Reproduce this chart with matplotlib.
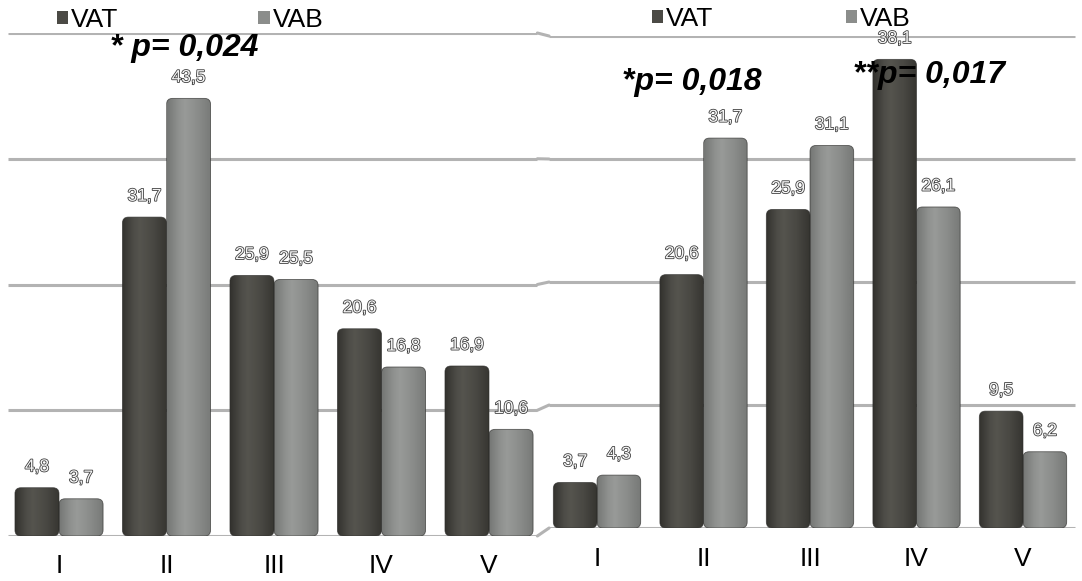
import numpy as np
import matplotlib.pyplot as plt
import matplotlib.patheffects as pe
from matplotlib.patches import FancyBboxPatch, Patch, ConnectionPatch
from matplotlib.colors import LinearSegmentedColormap

plt.rcParams['font.family'] = ['Liberation Sans', 'DejaVu Sans']

categories = ['I', 'II', 'III', 'IV', 'V']
vat_left = [4.8, 31.7, 25.9, 20.6, 16.9]
vab_left = [3.7, 43.5, 25.5, 16.8, 10.6]
vat_right = [3.7, 20.6, 25.9, 38.1, 9.5]
vab_right = [4.3, 31.7, 31.1, 26.1, 6.2]
grid_left = [0, 12.5, 25, 37.5, 50]
grid_right = [0, 10, 20, 30, 40]

W, H = 1082, 581
fig = plt.figure(figsize=(W / 100, H / 100), dpi=100)

# dark / light bar shading, left to right across each bar
cmap_vat = LinearSegmentedColormap.from_list(
    'vat', [(0, '#33322e'), (0.25, '#4d4c47'), (0.4, '#55544e'), (0.7, '#494843'), (1, '#363531')])
cmap_vab = LinearSegmentedColormap.from_list(
    'vab', [(0, '#757775'), (0.25, '#8f918f'), (0.4, '#989a98'), (0.7, '#8a8c8a'), (1, '#777977')])
grad = np.linspace(0, 1, 64).reshape(1, -1)


def px_axes(x0, y0, w, h):
    # x0 = left edge, y0 = baseline, both counted from the top-left in pixels
    return fig.add_axes([x0 / W, (H - y0) / H, w / W, h / H])


def fmt(v):
    return f'{v:.1f}'.replace('.', ',')


def draw_panel(ax, vat, vab, ymax, grid, x_from, x_to, pad):
    x = np.arange(len(categories))
    ax.set_xlim(-0.5, 4.5)
    ax.set_ylim(0, ymax)
    ax.hlines(grid, x_from, x_to, color='#b3b3b3', lw=2.2, zorder=0)

    # pixel size in data units, for the rounded bar tops
    p0 = ax.transData.transform((0, 0))
    p1 = ax.transData.transform((1, 1))
    ux = 1 / (p1[0] - p0[0])
    uy = 1 / (p1[1] - p0[1])

    for vals, off, cmap in [(vat, -0.205, cmap_vat), (vab, 0.205, cmap_vab)]:
        bars = ax.bar(x + off, vals, 0.41, color='none')
        for r in bars:
            r.set_visible(False)
            bx, bw, bh = r.get_x(), r.get_width(), r.get_height()
            patch = FancyBboxPatch((bx, 0), bw, bh,
                                   boxstyle=f'round,pad=0,rounding_size={6 * ux}',
                                   mutation_aspect=uy / ux,
                                   facecolor='none', edgecolor='#2c2c2a',
                                   lw=0.6, alpha=0.7, zorder=3)
            ax.add_patch(patch)
            im = ax.imshow(grad, cmap=cmap, extent=(bx, bx + bw, 0, bh),
                           aspect='auto', origin='lower', interpolation='bicubic', zorder=2)
            im.set_clip_path(patch)
            ax.annotate(fmt(bh), (bx + bw / 2, bh), xytext=(0, 15),
                        textcoords='offset points', ha='center', va='center',
                        fontsize=12.5, color='#f4f4f4',
                        path_effects=[pe.withStroke(linewidth=1.15, foreground='#3a3a3a')],
                        zorder=5)

    ax.set_xlim(-0.5, 4.5)
    ax.set_ylim(0, ymax)
    ax.set_xticks(x)
    ax.set_xticklabels(categories, fontsize=19)
    ax.tick_params(axis='x', length=0, pad=pad)
    ax.set_yticks([])
    for s in ax.spines.values():
        s.set_visible(False)
    ax.patch.set_visible(False)


axL = px_axes(5.25, 536, 537.5, 503)
axR = px_axes(543.75, 528, 532.5, 492)
draw_panel(axL, vat_left, vab_left, 50, grid_left, -0.47, 4.45, 13)
draw_panel(axR, vat_right, vab_right, 40, grid_right, -0.45, 4.49, 14)

# short joins between the two panels' gridlines
for yl, yr in zip(grid_left, grid_right):
    con = ConnectionPatch(xyA=(4.45, yl), coordsA=axL.transData,
                          xyB=(-0.45, yr), coordsB=axR.transData,
                          color='#b3b3b3', lw=2.2, zorder=0)
    fig.add_artist(con)

# legends
handles = [Patch(facecolor='#4b4a45', edgecolor='none'),
           Patch(facecolor='#8b8d8b', edgecolor='none')]
for ax, x0, y0, cs in [(axL, 57, 20, 5.3), (axR, 652, 19, 5.0)]:
    ax.legend(handles, ['VAT', 'VAB'], loc='center left',
              bbox_to_anchor=(x0 / W, 1 - y0 / H), bbox_transform=fig.transFigure,
              ncol=2, frameon=False, fontsize=19, handlelength=0.42, handleheight=0.42,
              handletextpad=0.12, columnspacing=cs, borderpad=0, borderaxespad=0)

# significance notes
for txt, x0, y0 in [('* p= 0,024', 110, 48), ('*p= 0,018', 622, 82), ('**p= 0,017', 853, 75)]:
    fig.text(x0 / W, 1 - y0 / H, txt, ha='left', va='center', fontsize=23,
             fontweight='bold', fontstyle='italic', color='black', zorder=10)

fig.savefig('out.png', dpi=100)
